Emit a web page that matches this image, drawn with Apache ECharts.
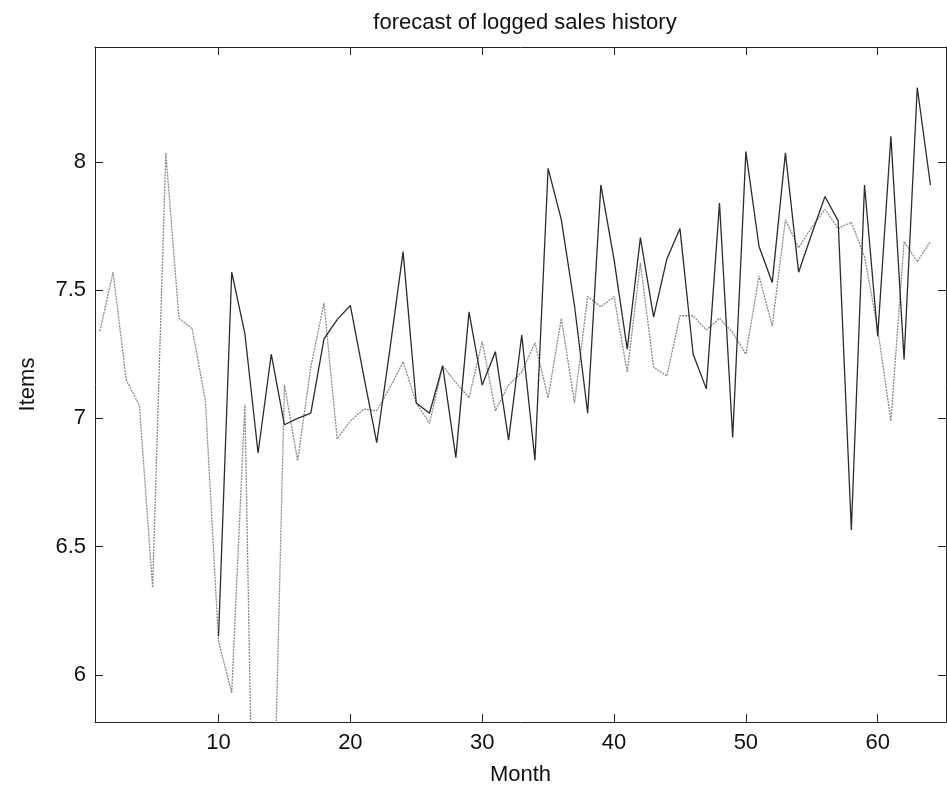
<!DOCTYPE html>
<html>
<head>
<meta charset="utf-8">
<script src="https://cdn.jsdelivr.net/npm/echarts@6/dist/echarts.min.js"></script>
<style>
  html, body { margin: 0; padding: 0; background: #fff; }
  #chart { width: 947px; height: 791px; }
</style>
</head>
<body>
<div id="chart"></div>
<script>
// Text
const titleText = 'forecast of logged sales history';
const xName = 'Month';
const yName = 'Items';

// Tick positions
const xTicks = [10, 20, 30, 40, 50, 60];
const yTicks = [6, 6.5, 7, 7.5, 8];

// Logged sales history, month 1 onward (months 13 and 14 fall below the plotted range)
const historyStart = 1;
const logSales = [
  7.34, 7.57, 7.15, 7.05, 6.34, 8.035, 7.39, 7.35, 7.07, 6.13,
  5.93, 7.055, 4.2, 5.0, 7.13, 6.835, 7.2, 7.45, 6.92, 6.99,
  7.035, 7.03, 7.12, 7.22, 7.06, 6.98, 7.205, 7.14, 7.08, 7.30,
  7.03, 7.13, 7.18, 7.295, 7.08, 7.39, 7.06, 7.475, 7.435, 7.475,
  7.18, 7.605, 7.2, 7.165, 7.40, 7.40, 7.345, 7.39, 7.335, 7.25,
  7.555, 7.36, 7.775, 7.665, 7.745, 7.815, 7.74, 7.765, 7.63, 7.35,
  6.99, 7.69, 7.61, 7.69
];

// Forecast, month 10 onward
const forecastStart = 10;
const forecast = [
  6.15, 7.57, 7.33, 6.865, 7.25, 6.975, 7.00, 7.02, 7.31, 7.385,
  7.44, 7.17, 6.905, 7.27, 7.65, 7.06, 7.02, 7.205, 6.847, 7.415,
  7.13, 7.26, 6.915, 7.325, 6.837, 7.975, 7.775, 7.44, 7.02, 7.91,
  7.62, 7.27, 7.705, 7.395, 7.62, 7.74, 7.25, 7.115, 7.84, 6.925,
  8.04, 7.67, 7.53, 8.035, 7.57, 7.72, 7.865, 7.77, 6.565, 7.91,
  7.32, 8.10, 7.23, 8.29, 7.91
];

const toPairs = (start, vals) => vals.map((v, i) => [start + i, v]);

const font = 'Liberation Sans, Arial, Helvetica, sans-serif';
const axisColor = '#222';

const X_MIN = 0.63, X_MAX = 65.18;
const Y_MIN = 5.816, Y_MAX = 8.448;

const chart = echarts.init(document.getElementById('chart'), null, { renderer: 'canvas' });

const frameAxis = {
  axisLine: { show: true, onZero: false, lineStyle: { color: axisColor, width: 1 } },
  axisTick: { show: true, inside: true, length: 8, lineStyle: { color: axisColor, width: 1 } },
  splitLine: { show: false }
};

chart.setOption({
  animation: false,
  backgroundColor: '#fff',
  title: {
    text: titleText,
    left: 520,
    top: 7,
    textAlign: 'center',
    textStyle: { fontFamily: font, fontSize: 22, fontWeight: 'normal', color: '#111' }
  },
  grid: { left: 95, right: 1, top: 47, bottom: 68, containLabel: false },
  xAxis: [
    Object.assign({
      type: 'value', position: 'bottom', min: X_MIN, max: X_MAX,
      name: xName, nameLocation: 'middle', nameGap: 42,
      nameTextStyle: { fontFamily: font, fontSize: 22, color: '#111' },
      axisLabel: {
        customValues: xTicks, margin: 10,
        fontFamily: font, fontSize: 22, color: '#111'
      }
    }, frameAxis, {
      axisTick: Object.assign({}, frameAxis.axisTick, { customValues: xTicks })
    }),
    Object.assign({
      type: 'value', position: 'top', min: X_MIN, max: X_MAX,
      axisLabel: { show: false, customValues: xTicks }
    }, frameAxis, {
      axisTick: Object.assign({}, frameAxis.axisTick, { customValues: xTicks })
    })
  ],
  yAxis: [
    Object.assign({
      type: 'value', position: 'left', min: Y_MIN, max: Y_MAX,
      name: yName, nameLocation: 'middle', nameGap: 56, nameRotate: 90,
      nameTextStyle: { fontFamily: font, fontSize: 22, color: '#111' },
      axisLabel: {
        customValues: yTicks, margin: 9,
        fontFamily: font, fontSize: 22, color: '#111',
        formatter: v => String(v)
      }
    }, frameAxis, {
      axisTick: Object.assign({}, frameAxis.axisTick, { customValues: yTicks })
    }),
    Object.assign({
      type: 'value', position: 'right', min: Y_MIN, max: Y_MAX,
      axisLabel: { show: false, customValues: yTicks }
    }, frameAxis, {
      axisTick: Object.assign({}, frameAxis.axisTick, { customValues: yTicks })
    })
  ],
  series: [
    {
      name: 'history',
      type: 'line',
      data: toPairs(historyStart, logSales),
      showSymbol: false,
      clip: true,
      lineStyle: { color: '#8a8a8a', width: 1.3, type: [2, 1] },
      z: 2
    },
    {
      name: 'forecast',
      type: 'line',
      data: toPairs(forecastStart, forecast),
      showSymbol: false,
      clip: true,
      lineStyle: { color: '#2b2b2b', width: 1.3 },
      z: 3
    }
  ]
});
</script>
</body>
</html>
